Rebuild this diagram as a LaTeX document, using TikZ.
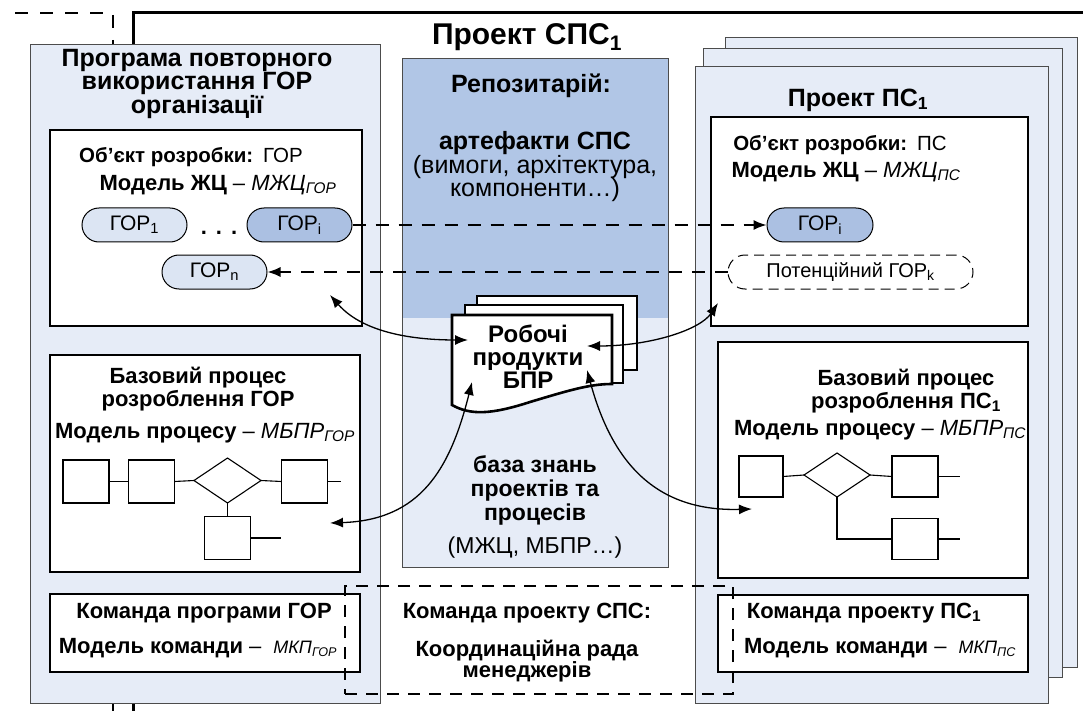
\documentclass[tikz,border=0pt]{standalone}
\usepackage{fontspec}
\setmainfont{Liberation Sans}
\usetikzlibrary{arrows.meta,shapes.geometric}
\definecolor{panelblue}{RGB}{230,236,247}
\definecolor{repoblue}{RGB}{177,198,230}
\definecolor{gorlight}{RGB}{220,229,243}
\definecolor{gordark}{RGB}{171,192,226}
\newcommand\fsz[2]{\fontsize{#1}{#2}\selectfont}
% rectangle node given by its corners: style, name, x1, y1, x2, y2
\newcommand\rectnode[6]{%
  \node[#1, minimum width={((#5)-(#3))*1pt}, minimum height={((#6)-(#4))*1pt}]
    (#2) at ({((#3)+(#5))/2},{((#4)+(#6))/2}) {};}
\begin{document}
\begin{tikzpicture}[x=1pt,y=-1pt,
  panel/.style={draw=black!70, line width=1pt, fill=panelblue, inner sep=0pt, outer sep=0pt},
  inbox/.style={draw=black, line width=1.2pt, fill=white, inner sep=0pt, outer sep=0pt},
  pill/.style={draw=black, line width=1pt, rounded corners=17pt, minimum height=34pt,
    inner sep=0pt, font=\fsz{21}{24}},
  head/.style={font=\bfseries\fsz{22}{23}, align=center, inner sep=0pt},
  bighead/.style={font=\bfseries\fsz{25}{22.5}, align=center, inner sep=0pt},
  txt/.style={font=\fsz{22}{23}, align=center, inner sep=0pt},
  objtxt/.style={font=\fsz{20.5}{22}, align=center, inner sep=0pt},
  ttl/.style={font=\bfseries\fsz{30}{32}, inner sep=0pt},
  docpage/.style={draw=black, line width=2.6pt, fill=white, line join=miter},
  link/.style={line width=1.3pt, {Latex[length=13pt,width=10pt]}-{Latex[length=13pt,width=10pt]}},
  dlink/.style={line width=1.5pt, dash pattern=on 13pt off 10pt, -{Latex[length=13pt,width=10pt]}},
  framedash/.style={line width=1.5pt, dash pattern=on 13pt off 12pt},
  flowbox/.style={draw=black, line width=1.1pt, fill=white, inner sep=0pt, outer sep=0pt},
  flowdia/.style={diamond, draw=black, line width=1.1pt, fill=white, inner sep=0pt, outer sep=0pt},
  fline/.style={line width=1.1pt},
]
\useasboundingbox (0,0) rectangle (1083,711);

% enclosing frames of the programme and of the project
\draw[line width=3pt] (133,47) -- (133,13) -- (1090,13);
\draw[line width=3pt] (133,700) -- (133,715);
\draw[framedash] (15,13) -- (113,13) -- (113,47);
\draw[framedash] (113,700) -- (113,715);

% stack of software projects
\rectnode{panel}{rp3}{725}{38}{1077}{667}
\rectnode{panel}{rp2}{703}{49}{1062}{677}
\rectnode{panel}{rp1}{695}{67}{1048}{703}

% reuse programme
\rectnode{panel}{lp}{30}{45}{380}{703}

% repository and knowledge base
\rectnode{panel}{cp}{402}{59}{668}{567}
\fill[repoblue] (402,59) rectangle (668,318);
\draw[draw=black!70, line width=1pt] (cp.north west) rectangle (cp.south east);

% titles
\node[ttl] (title) at (527,37) {Проект СПС\textsubscript{1}};
\node[bighead] (lptitle) at (197,84) {Програма повторного\\використання ГОР\\організації};
\node[bighead] (rptitle) at (858,100) {Проект ПС\textsubscript{1}};

% repository texts
\node[bighead] (reptitle) at (531,86) {Репозитарій:};
\node[txt, font=\fsz{25}{23.5}] (artef) at (535,167)
  {\textbf{артефакти СПС}\\(вимоги, архітектура,\\компоненти…)};
\node[head, font=\bfseries\fsz{23}{24}] (kbtitle) at (535,490) {база знань\\проектів та\\процесів};
\node[txt, font=\fsz{23}{24}] (kblist) at (535,548) {(МЖЦ, МБПР…)};

% inner boxes
\rectnode{inbox}{lb1}{50}{130}{362}{326}
\rectnode{inbox}{lb2}{50}{355}{360}{572}
\rectnode{inbox}{lb3}{50}{594}{360}{672}
\rectnode{inbox}{rb1}{711}{117}{1028}{326}
\rectnode{inbox}{rb2}{718}{342}{1028}{578}
\rectnode{inbox}{rb3}{718}{595}{1028}{672}

% object and life-cycle model
\node[objtxt] (lobj) at (191,157) {\textbf{Об’єкт розробки:}\hspace{10pt}ГОР};
\node[txt] (lmod) at (218,185) {\textbf{Модель ЖЦ} – \textit{МЖЦ\textsubscript{ГОР}}};
\node[objtxt] (robj) at (840,145) {\textbf{Об’єкт розробки:}\hspace{10pt}ПС};
\node[txt] (rmod) at (846,172) {\textbf{Модель ЖЦ} – \textit{МЖЦ\textsubscript{ПС}}};

\node[pill, fill=gorlight, minimum width=105pt] (lgor1) at (134.5,225) {ГОР\textsubscript{1}};
\node[font=\bfseries\fsz{22}{23}, inner sep=0pt] (ldots) at (219,233) {.\hspace{9pt}.\hspace{9pt}.};
\node[pill, fill=gordark, minimum width=105pt] (lgori) at (299.5,225) {ГОР\textsubscript{i}};
\node[pill, fill=gorlight, minimum width=105pt] (lgorn) at (214.5,272) {ГОР\textsubscript{n}};
\node[pill, fill=gordark, minimum width=106pt] (rgori) at (820,225) {ГОР\textsubscript{i}};
\node[pill, fill=white, minimum width=245pt, dash pattern=on 10pt off 6pt, font=\fsz{20}{22}]
  (rgork) at (850.5,272) {Потенційний ГОР\textsubscript{k}};

% base development processes
\node[head] (lproc) at (198,389) {Базовий процес\\розроблення ГОР};
\node[txt] (lpmod) at (205,433) {\textbf{Модель процесу} – \textit{МБПР\textsubscript{ГОР}}};
\node[head] (rproc) at (906,391) {Базовий процес\\розроблення ПС\textsubscript{1}};
\node[txt] (rpmod) at (880,430) {\textbf{Модель процесу} – \textit{МБПР\textsubscript{ПС}}};

\node[flowbox, minimum width=46pt, minimum height=43pt] (l1) at (86,481.5) {};
\node[flowbox, minimum width=46pt, minimum height=43pt] (l2) at (151.5,481.5) {};
\node[flowdia, minimum width=67pt, minimum height=45pt] (ld) at (227.5,480.5) {};
\node[flowbox, minimum width=46pt, minimum height=43pt] (l3) at (304.5,481.5) {};
\node[flowbox, minimum width=46pt, minimum height=43pt] (l4) at (227.5,538) {};
\draw[fline] (l1.east) -- (l2.west);
\draw[fline] (l2.east) -- (ld.west);
\draw[fline] (ld.east) -- (l3.west);
\draw[fline] (l3.east) -- ++(13,0);
\draw[fline] (ld.south) -- (l4.north);
\draw[fline] (l4.east) -- ++(30,0);

\node[flowbox, minimum width=44pt, minimum height=41pt] (r1) at (761,476.5) {};
\node[flowdia, minimum width=66pt, minimum height=44pt] (rd) at (837,475) {};
\node[flowbox, minimum width=46pt, minimum height=41pt] (r2) at (915,476.5) {};
\node[flowbox, minimum width=46pt, minimum height=41pt] (r3) at (915,539) {};
\draw[fline] (r1.east) -- (rd.west);
\draw[fline] (rd.east) -- (r2.west);
\draw[fline] (r2.east) -- ++(22,0);
\draw[fline] (rd.south) |- (r3.west);
\draw[fline] (r3.east) -- ++(22,0);

% teams
\node[head] (lteam) at (204,613) {Команда програми ГОР};
\node[txt] (ltmod) at (198,648) {\textbf{Модель команди} –\hspace{12pt}{\fsz{18}{20}\itshape МКП\textsubscript{ГОР}}};
\node[head] (rteam) at (864,613) {Команда проекту ПС\textsubscript{1}};
\node[txt] (rtmod) at (880,648) {\textbf{Модель команди} –\hspace{12pt}{\fsz{18}{20}\itshape МКП\textsubscript{ПС}}};

\rectnode{draw=black, line width=1.5pt, dash pattern=on 12pt off 9pt, inner sep=0pt}{team}{345}{586}{733}{694}
\node[head] (ctteam) at (527,613) {Команда проекту СПС:};
\node[head, font=\bfseries\fsz{22}{21}] (council) at (527,661) {Координаційна рада\\менеджерів};

% work products of the base processes
\draw[docpage] (477,296) rectangle (637,370);
\draw[docpage] (465,305) rectangle (623,383);
\draw[docpage] (452,315) -- (612,315) -- (612,384)
  .. controls (590,384) and (570,390) .. (530,402)
  .. controls (490,415) and (470,415) .. (452,405) -- cycle;
\node[bighead, font=\bfseries\fsz{24}{23}] (wp) at (528,357) {Робочі\\продукти\\БПР};

% reuse flows between programme and projects
\draw[dlink] (lgori.east) -- (rgori.west);
\draw[dlink] (rgork.west) -- (lgorn.east);

% exchange with the knowledge base
\coordinate (a1s) at (330,295);
\coordinate (a1e) at (468,340);
\coordinate (a2s) at (587,346);
\coordinate (a2e) at (718,303);
\coordinate (a3s) at (472,382);
\coordinate (a3e) at (330,523);
\coordinate (a4s) at (587,370);
\coordinate (a4e) at (752,509);
\draw[link] (a1s) .. controls (365,335) and (420,340) .. (a1e);
\draw[link] (a2s) .. controls (650,346) and (700,330) .. (a2e);
\draw[link] (a3s) .. controls (450,470) and (420,520) .. (a3e);
\draw[link] (a4s) .. controls (610,455) and (650,512) .. (a4e);
\end{tikzpicture}
\end{document}
